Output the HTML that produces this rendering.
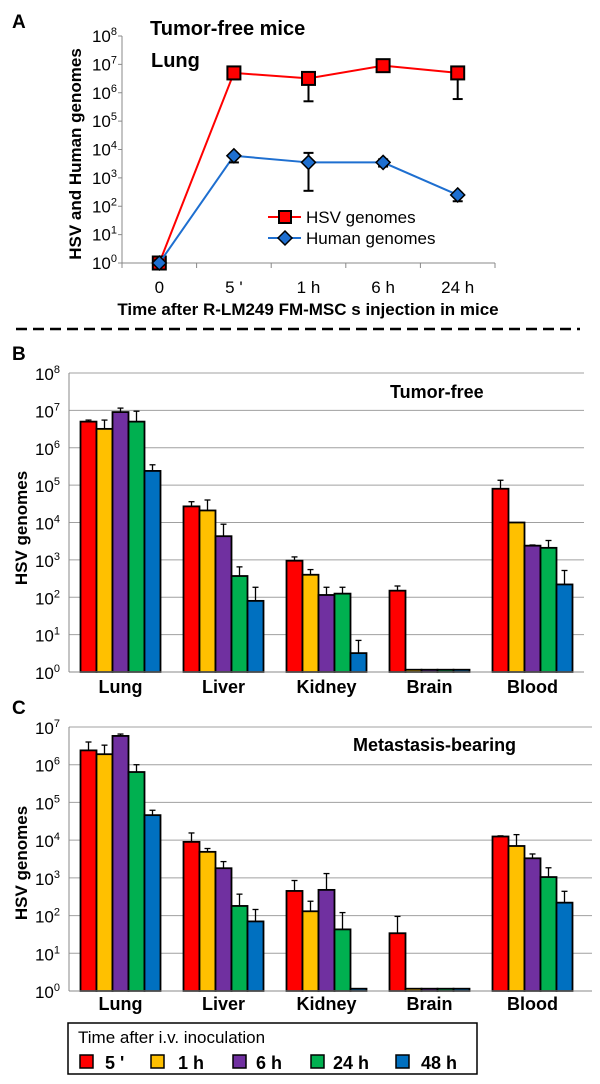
<!DOCTYPE html>
<html><head><meta charset="utf-8"><style>
html,body{margin:0;padding:0;background:#fff;}
svg{display:block;font-family:"Liberation Sans",sans-serif;}
</style></head><body>
<svg id="fig" width="600" height="1084" viewBox="0 0 600 1084" xmlns="http://www.w3.org/2000/svg"></svg>
<script>
// ---- Panel A data ----
const aCategories = ["0","5 '","1 h","6 h","24 h"];
const hsvValues = [1, 5e6, 3.2e6, 9e6, 5e6];
const hsvErrHi = [1.3, 8e6, 5e6, 1.3e7, 8e6];
const hsvErrLo = [1, 3e6, 5e5, 6e6, 6e5];
const humanValues = [1, 6e3, 3.5e3, 3.5e3, 250];
const humanErrHi = [1.3, 7e3, 7.6e3, 4.5e3, 300];
const humanErrLo = [1, 3.5e3, 350, 2.5e3, 150];
const aTicks = [0,1,2,3,4,5,6,7,8];
// ---- Panels B/C data ----
const organs = ["Lung","Liver","Kidney","Brain","Blood"];
const timeLabels = ["5 '","1 h","6 h","24 h","48 h"];
const bValues = [
 [5e6,3.2e6,9e6,5e6,2.4e5],
 [2.7e4,2.1e4,4.3e3,370,80],
 [950,400,115,125,3.2],
 [150,1.15,1.15,1.15,1.15],
 [8e4,1e4,2.4e3,2.1e3,220]];
const bErr = [
 [5.5e6,5.5e6,1.15e7,9.5e6,3.5e5],
 [3.6e4,4e4,9e3,650,185],
 [1.2e3,550,185,185,7],
 [200,null,null,null,null],
 [1.35e5,null,2.5e3,3.3e3,520]];
const cValues = [
 [2.4e6,1.9e6,5.8e6,6.4e5,4.6e4],
 [9e3,4.9e3,1.8e3,180,70],
 [450,130,480,43,1.15],
 [34,1.15,1.15,1.15,1.15],
 [1.25e4,7e3,3.3e3,1.05e3,220]];
const cErr = [
 [4e6,3.3e6,6.5e6,1e6,6.2e4],
 [1.55e4,6e3,2.7e3,370,145],
 [850,240,1300,120,null],
 [95,null,null,null,null],
 [1.3e4,1.4e4,4.3e3,1.85e3,440]];
const bTicks = [0,1,2,3,4,5,6,7,8];
const cTicks = [0,1,2,3,4,5,6,7];
const colors = ["#ff0000","#ffc000","#7030a0","#00b050","#0070c0"];

const NS="http://www.w3.org/2000/svg";
const svg=document.getElementById('fig');
function mk(tag,attrs,parent){const e=document.createElementNS(NS,tag);for(const k in attrs)e.setAttribute(k,attrs[k]);(parent||svg).appendChild(e);return e;}
function txt(x,y,s,attrs,parent){const e=mk('text',Object.assign({x:x,y:y},attrs||{}),parent);e.textContent=s;return e;}
function powLabel(g,xr,y,exp){
  const t=mk('text',{x:xr,y:y,'text-anchor':'end','font-size':17,fill:'#000'},g);
  const a=document.createElementNS(NS,'tspan');a.textContent='10';t.appendChild(a);
  const b=document.createElementNS(NS,'tspan');b.setAttribute('dy','-7');b.setAttribute('font-size','11');b.textContent=String(exp);t.appendChild(b);
  return t;
}

// ===== Panel A =====
const A={x0:122,x1:495,y0:263,yTop:36,dec:8};
const ay=v=>A.y0-(Math.log10(v)/A.dec)*(A.y0-A.yTop);
const ax=i=>A.x0+(i+0.5)*(A.x1-A.x0)/aCategories.length;
const gA=mk('g',{});


let t=txt(12,28,'A',{'font-size':19,'font-weight':'bold'},gA);

t=txt(150,35,'Tumor-free mice',{'font-size':20,'font-weight':'bold'},gA);

t=txt(151,67,'Lung',{'font-size':20,'font-weight':'bold'},gA);

mk('line',{x1:A.x0,y1:A.yTop,x2:A.x0,y2:A.y0,stroke:'#888','stroke-width':1},gA);
mk('line',{x1:A.x0,y1:A.y0,x2:A.x1,y2:A.y0,stroke:'#888','stroke-width':1},gA);
aTicks.forEach(e=>{const y=ay(Math.pow(10,e));
  mk('line',{x1:A.x0-4,y1:y,x2:A.x0,y2:y,stroke:'#888'},gA);
  const l=powLabel(gA,117,y+6,e);
  
});
for(let i=0;i<=aCategories.length;i++){const x=A.x0+i*(A.x1-A.x0)/aCategories.length;mk('line',{x1:x,y1:A.y0,x2:x,y2:A.y0+5,stroke:'#888'},gA);}
aCategories.forEach((c,i)=>{const l=txt(ax(i),293,c,{'font-size':17,'text-anchor':'middle'},gA);
  });
t=txt(308,315,'Time after R-LM249 FM-MSC s injection in mice',{'font-size':17,'font-weight':'bold','text-anchor':'middle'},gA);

t=txt(0,0,'HSV  and Human genomes',{'font-size':17,'font-weight':'bold','text-anchor':'middle',transform:'translate(81,154) rotate(-90)'},gA);

function drawSeries(vals,hi,lo,color,shape,name){
  const g=mk('g',{},gA);
  
  
  mk('polyline',{points:vals.map((v,i)=>ax(i)+','+ay(v)).join(' '),fill:'none',stroke:color,'stroke-width':2},g);
  vals.forEach((v,i)=>{const x=ax(i);
    mk('line',{x1:x,y1:ay(hi[i]),x2:x,y2:ay(lo[i]),stroke:'#000','stroke-width':2},g);
    mk('line',{x1:x-5,y1:ay(hi[i]),x2:x+5,y2:ay(hi[i]),stroke:'#000','stroke-width':2},g);
    mk('line',{x1:x-5,y1:ay(lo[i]),x2:x+5,y2:ay(lo[i]),stroke:'#000','stroke-width':2},g);
    const y=ay(v);let m;
    if(shape==='sq') m=mk('rect',{x:x-6.5,y:y-6.5,width:13,height:13,fill:color,stroke:'#000','stroke-width':2},g);
    else m=mk('polygon',{points:`${x},${y-7} ${x+7},${y} ${x},${y+7} ${x-7},${y}`,fill:color,stroke:'#000','stroke-width':1.5},g);
    
  });
}
drawSeries(hsvValues,hsvErrHi,hsvErrLo,'#ff0000','sq','hsv-series');
drawSeries(humanValues,humanErrHi,humanErrLo,'#1e6fd0','dm','human-series');
// legend A
const lgA=mk('g',{},gA);

mk('line',{x1:268,y1:217,x2:301,y2:217,stroke:'#ff0000','stroke-width':2},lgA);
mk('rect',{x:279,y:211,width:12,height:12,fill:'#ff0000',stroke:'#000','stroke-width':2},lgA);
txt(306,223,'HSV genomes',{'font-size':17},lgA);
mk('line',{x1:268,y1:238,x2:301,y2:238,stroke:'#1e6fd0','stroke-width':2},lgA);
mk('polygon',{points:'285,231 292,238 285,245 278,238',fill:'#1e6fd0',stroke:'#000','stroke-width':1.5},lgA);
txt(306,244,'Human genomes',{'font-size':17},lgA);
const dash=mk('line',{x1:16,y1:329,x2:580,y2:329,stroke:'#000','stroke-width':2.5,'stroke-dasharray':'11,6'});


// ===== Bar panels =====
function barPanel(cfg){
  const g=mk('g',{});
  
  
  const X0=69,X1=584,gw=(X1-X0)/organs.length,bw=16;
  const yy=v=>cfg.y0-(Math.log10(v)/cfg.maxExp)*(cfg.y0-cfg.yTop);
  let l=txt(12,cfg.labelY,cfg.letter,{'font-size':19,'font-weight':'bold'},g);
  
  cfg.ticks.forEach(e=>{const y=yy(Math.pow(10,e));
    mk('line',{x1:X0,y1:y,x2:cfg.gridR,y2:y,stroke:'#a0a0a0','stroke-width':1},g);
    const p=powLabel(g,60,y+7,e);});
  mk('line',{x1:X0,y1:cfg.yTop,x2:X0,y2:cfg.y0,stroke:'#888'},g);
  l=txt(cfg.titleX,cfg.titleY,cfg.title,{'font-size':18,'font-weight':'bold'},g);
  
  l=txt(0,0,'HSV genomes',{'font-size':17,'font-weight':'bold','text-anchor':'middle',transform:`translate(27,${cfg.ytY}) rotate(-90)`},g);
  
  organs.forEach((o,i)=>{
    const cx=X0+(i+0.5)*gw,left=cx-bw*2.5;
    cfg.values[i].forEach((v,j)=>{
      const x=left+j*bw,y=yy(v);
      const r=mk('rect',{x:x,y:y,width:bw,height:cfg.y0-y,fill:colors[j],stroke:'#000','stroke-width':1.8},g);
      
      const e=cfg.err[i][j];
      if(e){const ye=yy(e);mk('line',{x1:x+bw/2,y1:y,x2:x+bw/2,y2:ye,stroke:'#000','stroke-width':1.3},g);
        mk('line',{x1:x+bw/2-3,y1:ye,x2:x+bw/2+3,y2:ye,stroke:'#000','stroke-width':1.3},g);}
    });
    const lab=txt(cx,cfg.catY,o,{'font-size':18,'font-weight':'bold','text-anchor':'middle'},g);
    
  });
  mk('line',{x1:X0,y1:cfg.y0,x2:cfg.gridR,y2:cfg.y0,stroke:'#888'},g);
}
barPanel({name:'panel-b-tumor-free-bar-chart',letter:'B',labelY:360,y0:672,yTop:373,maxExp:8,ticks:bTicks,gridR:584,values:bValues,err:bErr,title:'Tumor-free',titleX:390,titleY:398,ytY:528,catY:693});
barPanel({name:'panel-c-metastasis-bar-chart',letter:'C',labelY:714,y0:991,yTop:727,maxExp:7,ticks:cTicks,gridR:592,values:cValues,err:cErr,title:'Metastasis-bearing',titleX:353,titleY:751,ytY:863,catY:1010});

// legend C
const lg=mk('g',{});

mk('rect',{x:68,y:1023,width:409,height:51,fill:'#fff',stroke:'#000','stroke-width':1.5},lg);
txt(78,1043,'Time after i.v. inoculation',{'font-size':17},lg);
const swX=[80,151,233,311,396], tX=[105,178,256,333,421];
timeLabels.forEach((s,j)=>{
  const r=mk('rect',{x:swX[j],y:1055,width:13,height:13,fill:colors[j],stroke:'#000','stroke-width':1.5},lg);
  
  const tt=txt(tX[j],1069,s,{'font-size':18,'font-weight':'bold'},lg);
  
});
</script>
</body></html>
